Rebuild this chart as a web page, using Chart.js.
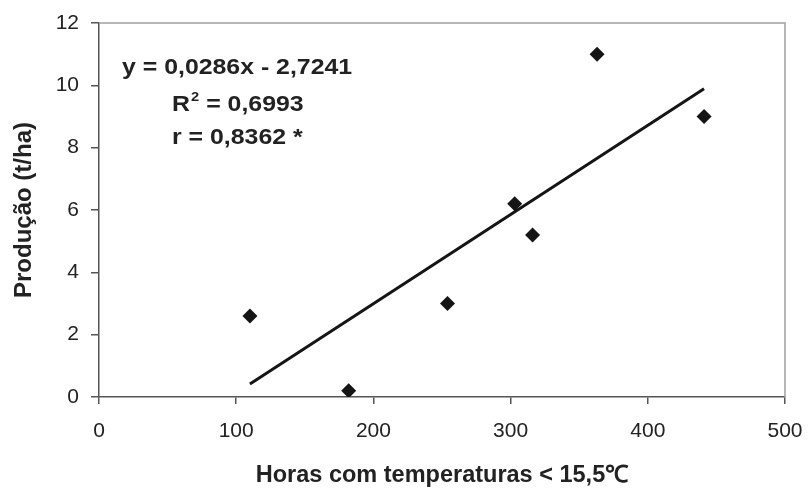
<!DOCTYPE html>
<html>
<head>
<meta charset="utf-8">
<script src="https://cdn.jsdelivr.net/npm/chart.js@4/dist/chart.umd.min.js"></script>
<style>
  body { margin: 0; background: #fff; }
  #wrap { width: 810px; height: 495px; }
</style>
</head>
<body>
<div id="wrap"><canvas id="grafico" width="810" height="495"></canvas></div>
<script>
// dados
const horas = [110, 182, 254, 303, 316, 363, 441];
const producao = [2.6, 0.2, 3.0, 6.2, 5.2, 11.0, 9.0];
// reta de tendencia (extremos)
const tendX = [110, 441];
const tendY = [0.42, 9.89];
const xLimites = [0, 500, 100];
const yLimites = [0, 12, 2];
const equacao = ["y = 0,0286x - 2,7241", "R", "2", " = 0,6993", "r = 0,8362 *"];

const fonte = "'Liberation Sans', Arial, sans-serif";

const moldura = {
  id: 'moldura',
  beforeDatasetsDraw(chart) {
    const { ctx, chartArea: a } = chart;
    ctx.save();
    ctx.strokeStyle = '#a0a0a0';
    ctx.lineWidth = 1.5;
    ctx.beginPath();
    ctx.moveTo(a.left, a.top);
    ctx.lineTo(a.right, a.top);
    ctx.lineTo(a.right, a.bottom);
    ctx.stroke();
    ctx.restore();
  },
  afterDraw(chart) {
    const ctx = chart.ctx;
    ctx.save();
    ctx.fillStyle = '#222';
    ctx.textBaseline = 'alphabetic';
    const esticar = 1.13;
    ctx.scale(esticar, 1);
    ctx.font = 'bold 22px ' + fonte;
    ctx.fillText(equacao[0], 122 / esticar, 74);
    let x = 172 / esticar;
    ctx.fillText(equacao[1], x, 111);
    x += ctx.measureText(equacao[1]).width;
    ctx.font = 'bold 13px ' + fonte;
    ctx.fillText(equacao[2], x + 1, 101);
    x += ctx.measureText(equacao[2]).width + 1;
    ctx.font = 'bold 22px ' + fonte;
    ctx.fillText(equacao[3], x, 111);
    ctx.fillText(equacao[4], 172 / esticar, 144);
    ctx.restore();
  }
};

new Chart(document.getElementById('grafico'), {
  type: 'scatter',
  data: {
    datasets: [
      {
        label: 'Produção',
        data: horas.map((h, i) => ({ x: h, y: producao[i] })),
        pointStyle: 'rectRot',
        pointRadius: 7.5,
        pointHoverRadius: 7.5,
        backgroundColor: '#151515',
        borderColor: '#151515',
        borderWidth: 0,
        showLine: false
      },
      {
        label: 'Linear',
        data: tendX.map((h, i) => ({ x: h, y: tendY[i] })),
        showLine: true,
        pointRadius: 0,
        borderColor: '#151515',
        borderWidth: 3,
        fill: false
      }
    ]
  },
  plugins: [moldura],
  options: {
    responsive: false,
    animation: false,
    layout: { padding: { top: 23, right: 25, left: 0, bottom: 0 } },
    plugins: { legend: { display: false }, tooltip: { enabled: false } },
    scales: {
      x: {
        type: 'linear',
        min: xLimites[0],
        max: xLimites[1],
        afterFit: (s) => { s.height = 98; s.paddingLeft = 0; s.paddingRight = 0; },
        ticks: {
          stepSize: xLimites[2],
          padding: 15,
          color: '#222',
          font: { family: fonte, size: 21 }
        },
        grid: { drawOnChartArea: false, tickLength: 7, color: '#555', lineWidth: 1.5 },
        border: { color: '#555', width: 1.5 },
        title: {
          display: true,
          text: 'Horas com temperaturas < 15,5℃',
          color: '#222',
          font: { family: fonte, size: 23.5, weight: 'bold' },
          padding: { top: 0, bottom: 5 }
        }
      },
      y: {
        min: yLimites[0],
        max: yLimites[1],
        afterFit: (s) => { s.width = 99; s.paddingTop = 0; s.paddingBottom = 0; },
        ticks: {
          stepSize: yLimites[2],
          padding: 12,
          color: '#222',
          font: { family: fonte, size: 21 }
        },
        grid: { drawOnChartArea: false, tickLength: 8, color: '#555', lineWidth: 1.5 },
        border: { color: '#555', width: 1.5 },
        title: {
          display: true,
          text: 'Produção (t/ha)',
          color: '#222',
          font: { family: fonte, size: 24, weight: 'bold' },
          padding: { top: 10, bottom: 0 }
        }
      }
    }
  }
});
</script>
</body>
</html>
